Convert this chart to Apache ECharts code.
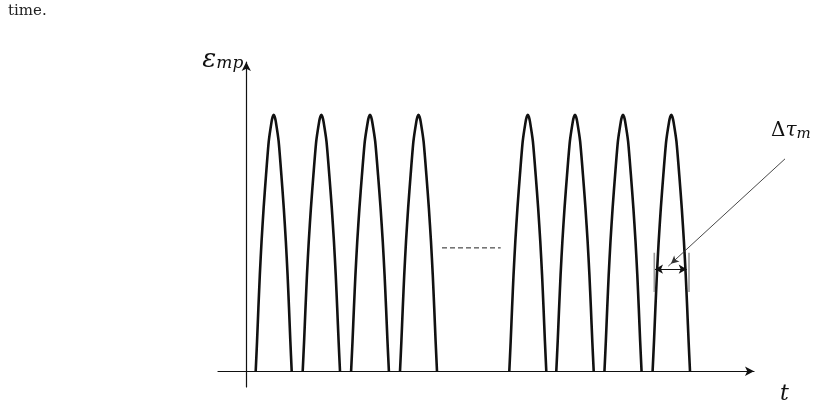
<!DOCTYPE html>
<html>
<head>
<meta charset="utf-8">
<script src="https://cdn.jsdelivr.net/npm/echarts@6.0.0/dist/echarts.min.js"></script>
<style>
  html, body { margin: 0; padding: 0; background: #fff; }
  #main { width: 824px; height: 408px; }
</style>
</head>
<body>
<div id="main"></div>
<script>
// 脉冲位置（t 轴单位），半宽和峰值
const pulseCenters = [2.74, 7.505, 12.37, 17.22, 28.15, 32.87, 37.67, 42.50];
const pulseHalfWidths = [1.80, 1.865, 1.89, 1.85, 1.85, 1.87, 1.855, 1.87];
const pulsePeaks = [1, 1, 1, 1, 1, 1, 1, 1];

// 单个脉冲的轮廓（相对半宽的偏移 / 相对高度），按第五个脉冲量的
const profileU = [1.0, 0.925, 0.85, 0.77, 0.675, 0.56, 0.425, 0.275, 0.115, 0.055, 0];
const profileH = [0, 0.117, 0.247, 0.377, 0.506, 0.636, 0.766, 0.896, 0.974, 0.993, 1];

// 中间的虚线
const gapDashT = [19.57, 25.44];
const gapDashH = 0.481;

// Δτm 标注
const dimArrowT = [40.87, 44.04];
const dimArrowH = 0.398;
const dimTickT = [40.8, 44.27];
const dimTickH = [0.309, 0.462];
const leaderT = [53.87, 42.2];
const leaderH = [0.828, 0.41];

// 拼出脉冲折线
var pulseData = [];
pulseCenters.forEach(function (c, i) {
    var hw = pulseHalfWidths[i];
    var pk = pulsePeaks[i];
    for (var k = 0; k < profileU.length; k++) {
        pulseData.push([c - profileU[k] * hw, profileH[k] * pk]);
    }
    for (var k = profileU.length - 2; k >= 0; k--) {
        pulseData.push([c + profileU[k] * hw, profileH[k] * pk]);
    }
    pulseData.push(null);
});

var hidden = {
    axisLine: { show: false }, axisTick: { show: false },
    axisLabel: { show: false }, splitLine: { show: false }
};

var chart = echarts.init(document.getElementById('main'));
chart.setOption({
    animation: false,
    title: {
        text: 'time.',
        left: 3,
        top: -1,
        textStyle: { fontFamily: 'DejaVu Serif', fontSize: 15, fontWeight: 'normal', color: '#222' }
    },
    grid: [
        { left: 218, right: 70, top: 62, bottom: 21 },
        // 同样的比例，往右延伸到边上，给标注引线用
        { left: 218, right: 0, top: 62, bottom: 21 }
    ],
    xAxis: [{
        type: 'value',
        min: -2.83,
        max: 50.77,
        name: 't',
        nameLocation: 'end',
        nameGap: 26,
        nameTextStyle: {
            fontFamily: 'DejaVu Serif', fontStyle: 'italic', fontSize: 22, color: '#111',
            verticalAlign: 'top', padding: [12, 0, 0, 0]
        },
        axisLine: { onZero: true, symbol: ['none', 'arrow'], symbolSize: [7, 9], lineStyle: { color: '#111', width: 1.2 } },
        axisTick: { show: false },
        axisLabel: { show: false },
        splitLine: { show: false }
    }, Object.assign({ type: 'value', gridIndex: 1, min: -2.83, max: 57.77 }, hidden)],
    yAxis: [{
        type: 'value',
        min: -0.0613,
        max: 1.2056,
        name: '{e|ε}{s|mp}',
        nameLocation: 'end',
        nameGap: 2,
        nameTextStyle: {
            align: 'right', verticalAlign: 'middle', padding: [0, 3, 0, 0],
            rich: {
                e: { fontFamily: 'DejaVu Serif', fontStyle: 'italic', fontSize: 26, color: '#111', lineHeight: 26 },
                s: { fontFamily: 'DejaVu Serif', fontStyle: 'italic', fontSize: 17, color: '#111', lineHeight: 26, padding: [8, 0, 0, 0] }
            }
        },
        axisLine: { onZero: true, symbol: ['none', 'arrow'], symbolSize: [7, 9], lineStyle: { color: '#111', width: 1.2 } },
        axisTick: { show: false },
        axisLabel: { show: false },
        splitLine: { show: false }
    }, Object.assign({ type: 'value', gridIndex: 1, min: -0.0613, max: 1.2056 }, hidden)],
    graphic: [{
        type: 'text',
        left: 771,
        top: 120,
        style: {
            text: '{a|Δ}{b|τ}{s|m}',
            rich: {
                a: { fontFamily: 'DejaVu Serif', fontSize: 20, fill: '#111', lineHeight: 26 },
                b: { fontFamily: 'DejaVu Serif', fontStyle: 'italic', fontSize: 20, fill: '#111', lineHeight: 26 },
                s: { fontFamily: 'DejaVu Serif', fontStyle: 'italic', fontSize: 15, fill: '#111', lineHeight: 26, padding: [7, 0, 0, 0] }
            }
        }
    }],
    series: [
        {
            name: 'pulses',
            type: 'line',
            data: pulseData,
            smooth: 0.2,
            showSymbol: false,
            connectNulls: false,
            lineStyle: { color: '#111', width: 2.6 }
        },
        {
            name: 'gap',
            type: 'line',
            data: [[gapDashT[0], gapDashH], [gapDashT[1], gapDashH]],
            showSymbol: false,
            lineStyle: { color: '#222', width: 1, type: [5, 3] }
        },
        {
            name: 'ticks',
            type: 'line',
            data: [[dimTickT[0], dimTickH[0]], [dimTickT[0], dimTickH[1]], null,
                   [dimTickT[1], dimTickH[0]], [dimTickT[1], dimTickH[1]]],
            showSymbol: false,
            connectNulls: false,
            lineStyle: { color: '#999', width: 1.6 }
        },
        {
            name: 'dim',
            type: 'line',
            data: [],
            markLine: {
                silent: true,
                symbol: ['arrow', 'arrow'],
                symbolSize: [7, 8],
                label: { show: false },
                lineStyle: { color: '#111', width: 1, type: 'solid' },
                data: [[{ coord: [dimArrowT[0], dimArrowH] }, { coord: [dimArrowT[1], dimArrowH] }]]
            }
        },
        {
            name: 'leader',
            type: 'line',
            xAxisIndex: 1,
            yAxisIndex: 1,
            data: [
                { value: [leaderT[0], leaderH[0]], symbol: 'none' },
                { value: [leaderT[1], leaderH[1]], symbol: 'arrow', symbolSize: [6, 8], symbolRotate: 132, symbolOffset: [2.6, -2.3] }
            ],
            showSymbol: true,
            itemStyle: { color: '#333' },
            lineStyle: { color: '#333', width: 0.9 }
        }
    ]
});
</script>
</body>
</html>
